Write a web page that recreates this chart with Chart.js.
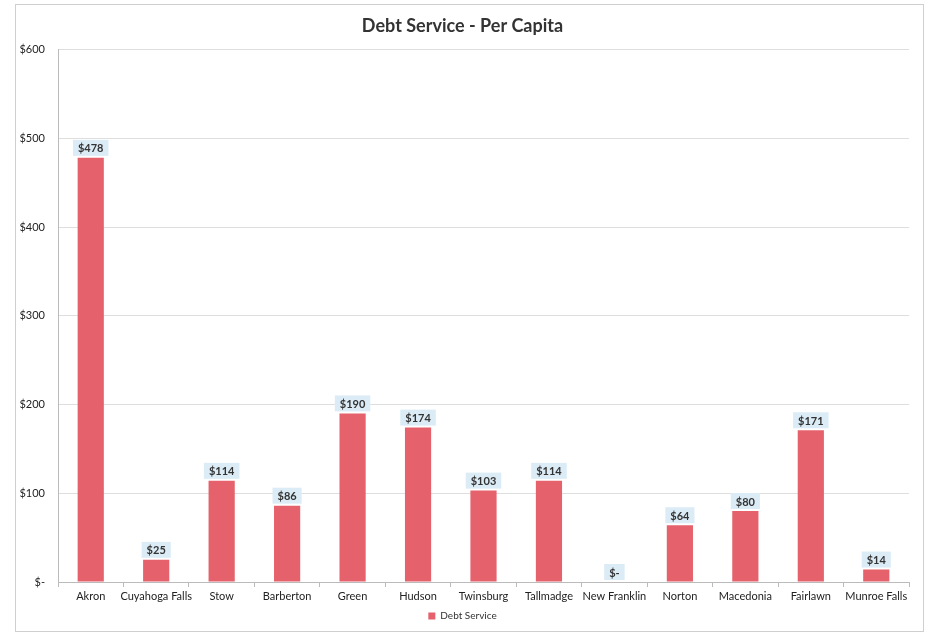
<!DOCTYPE html>
<html>
<head>
<meta charset="utf-8">
<script src="https://cdn.jsdelivr.net/npm/chart.js@4.4.0/dist/chart.umd.min.js"></script>
<style>
  body { margin: 0; background: #fff; }
  #frame {
    position: absolute; left: 15px; top: 4px;
    width: 909px; height: 628px;
    border: 1px solid #cfcfcf; box-sizing: border-box;
  }
</style>
</head>
<body>
<div id="frame"><canvas id="chart"></canvas></div>
<script>
  // Debt service per capita by community
  const ciudades = ['Akron', 'Cuyahoga Falls', 'Stow', 'Barberton', 'Green', 'Hudson', 'Twinsburg',
    'Tallmadge', 'New Franklin', 'Norton', 'Macedonia', 'Fairlawn', 'Munroe Falls'];
  const deuda = [478, 25, 114, 86, 190, 174, 103, 114, 0, 64, 80, 171, 14];
  const marcas = [0, 100, 200, 300, 400, 500, 600];

  const fuente = 'Lato, "Open Sans", sans-serif';

  function formatoDolar(v) {
    return v === 0 ? '$-' : '$' + v;
  }

  // Etiquetas de valor con fondo azul claro encima de cada barra
  const etiquetas = {
    id: 'etiquetas',
    afterDatasetsDraw(chart) {
      const ctx = chart.ctx;
      const meta = chart.getDatasetMeta(0);
      ctx.save();
      ctx.font = 'bold 11px ' + fuente;
      ctx.textAlign = 'center';
      ctx.textBaseline = 'middle';
      meta.data.forEach((bar, i) => {
        const texto = formatoDolar(chart.data.datasets[0].data[i]);
        const w = ctx.measureText(texto).width + 10;
        const h = 16;
        const cx = bar.x;
        const cy = bar.y - 10;
        ctx.fillStyle = '#dcecf6';
        ctx.fillRect(cx - w / 2, cy - h / 2, w, h);
        ctx.fillStyle = '#333';
        ctx.fillText(texto, cx, cy + 1);
      });
      ctx.restore();
    }
  };

  const ctx = document.getElementById('chart').getContext('2d');
  new Chart(ctx, {
    type: 'bar',
    data: {
      labels: ciudades,
      datasets: [{
        label: 'Debt Service',
        data: deuda,
        backgroundColor: '#e5616b',
        borderWidth: 0,
        categoryPercentage: 1,
        barPercentage: 0.4
      }]
    },
    options: {
      responsive: true,
      maintainAspectRatio: false,
      animation: false,
      layout: { padding: { left: 0, right: 14, top: 4, bottom: 0 } },
      plugins: {
        title: {
          display: true,
          text: 'Debt Service - Per Capita',
          color: '#333',
          font: { family: fuente, size: 18, weight: 'bold' },
          padding: { top: 6, bottom: 13 }
        },
        legend: {
          position: 'bottom',
          labels: {
            boxWidth: 7, boxHeight: 7, color: '#333', padding: 7,
            font: { family: fuente, size: 10 }
          }
        },
        tooltip: { enabled: false }
      },
      scales: {
        x: {
          afterFit(axis) { axis.height = 22; },
          grid: { display: true, drawOnChartArea: false, offset: true, tickLength: 5, color: '#bbb' },
          border: { color: '#bbb' },
          ticks: { color: '#222', padding: 3, maxRotation: 0, autoSkip: false, font: { family: fuente, size: 11 } }
        },
        y: {
          min: 0, max: 600,
          afterBuildTicks(axis) { axis.ticks = marcas.map(v => ({ value: v })); },
          afterFit(axis) { axis.width = 42; },
          grid: { color: '#dedede', drawTicks: false },
          border: { color: '#bbb' },
          ticks: {
            padding: 13, color: '#222',
            font: { family: fuente, size: 11 },
            callback: v => formatoDolar(v)
          }
        }
      }
    },
    plugins: [etiquetas]
  });
</script>
</body>
</html>
